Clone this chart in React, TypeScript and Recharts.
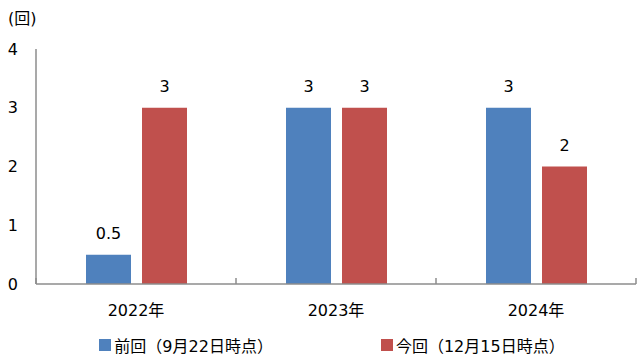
import { BarChart, Bar, XAxis, YAxis, Legend, LabelList } from 'recharts'

const YEARS = ['2022年', '2023年', '2024年']
const PREVIOUS = [0.5, 3, 3]
const CURRENT = [3, 3, 2]
const Y_TICKS = [0, 1, 2, 3, 4]
const BOUNDARY_TICKS = [0, 1, 2, 3]

const PREV_LABEL = '前回（9月22日時点）'
const CURR_LABEL = '今回（12月15日時点）'

const BLUE = '#4f81bd'
const RED = '#c0504d'
const AXIS = '#8c8c8c'
const FONT = '"DejaVu Sans", "Noto Sans CJK JP", sans-serif'

// pos = category centre on a 0..3 scale, used only for the boundary ticks
const data = YEARS.map((year, i) => ({ year, pos: i + 0.5, prev: PREVIOUS[i], curr: CURRENT[i] }))

function LegendContent() {
  const items = [
    { label: PREV_LABEL, color: BLUE },
    { label: CURR_LABEL, color: RED },
  ]
  return (
    <div
      style={{
        display: 'flex',
        justifyContent: 'center',
        gap: 108,
        paddingLeft: 24,
        height: 22,
        alignItems: 'center',
        fontSize: 16,
        color: '#000',
      }}
    >
      {items.map((it) => (
        <div key={it.label} style={{ display: 'flex', alignItems: 'center' }}>
          <span style={{ width: 12, height: 12, background: it.color, marginRight: 3 }} />
          <span>{it.label}</span>
        </div>
      ))}
    </div>
  )
}

export default function App() {
  return (
    <div style={{ position: 'absolute', left: 0, top: 0, width: 640, height: 357, fontFamily: FONT, background: '#fff' }}>
      <span style={{ position: 'absolute', left: 8, top: 8, fontSize: 16, lineHeight: '22px', color: '#000' }}>(回)</span>
      <BarChart
        width={640}
        height={357}
        data={data}
        margin={{ top: 49, right: 4, left: 0, bottom: 43 }}
        barSize={45}
        barGap={11}
      >
        {/* category boundary ticks, drawn upward from the axis line */}
        <XAxis
          xAxisId="grid"
          dataKey="pos"
          type="number"
          domain={[0, 3]}
          allowDataOverflow
          ticks={BOUNDARY_TICKS}
          interval={0}
          height={1}
          mirror
          axisLine={false}
          tickSize={6}
          tickLine={{ stroke: AXIS, strokeWidth: 1.5 }}
          tick={() => <g />}
        />
        <XAxis
          dataKey="year"
          height={30}
          tickLine={false}
          axisLine={{ stroke: AXIS, strokeWidth: 1.5 }}
          tickSize={6}
          tickMargin={15}
          tick={{ fontSize: 16, fill: '#000' }}
        />
        <YAxis
          width={36}
          domain={[0, 4]}
          ticks={Y_TICKS}
          tickLine={false}
          axisLine={{ stroke: AXIS, strokeWidth: 1.5 }}
          tickSize={6}
          tickMargin={12}
          tick={{ fontSize: 16, fill: '#000' }}
        />
        <Legend
          layout="horizontal"
          verticalAlign="middle"
          align="center"
          wrapperStyle={{ top: 334, left: 0, width: 640 }}
          content={() => <LegendContent />}
        />
        <Bar dataKey="prev" name={PREV_LABEL} fill={BLUE} isAnimationActive={false}>
          <LabelList dataKey="prev" position="top" offset={16} style={{ fontSize: 16, fill: '#000' }} />
        </Bar>
        <Bar dataKey="curr" name={CURR_LABEL} fill={RED} isAnimationActive={false}>
          <LabelList dataKey="curr" position="top" offset={16} style={{ fontSize: 16, fill: '#000' }} />
        </Bar>
      </BarChart>
    </div>
  )
}
